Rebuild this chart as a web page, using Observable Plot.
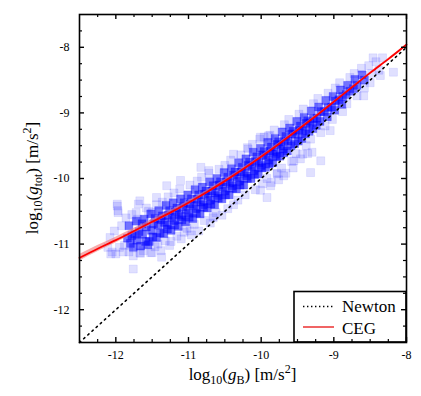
<!DOCTYPE html>
<html><head><meta charset="utf-8">
<script src="https://cdn.jsdelivr.net/npm/d3@7"></script>
<script src="https://cdn.jsdelivr.net/npm/@observablehq/plot@0.6"></script>
<style>html,body{margin:0;padding:0;background:#fff}
svg text{font-family:"Liberation Serif","Times New Roman",serif !important;}
</style>
</head><body><div id="chart"></div>
<script>
const xMajor = [-12, -11, -10, -9, -8];
const yMajor = [-12, -11, -10, -9, -8];
const xMinor = [-12.25, -11.75, -11.5, -11.25, -10.75, -10.5, -10.25, -9.75, -9.5, -9.25, -8.75, -8.5, -8.25];
const yMinor = [-12.25, -11.75, -11.5, -11.25, -10.75, -10.5, -10.25, -9.75, -9.5, -9.25, -8.75, -8.5, -8.25, -7.75];

const newtonX = [-12.5, -8];

const cegX = [-12.5, -12.25, -12, -11.75, -11.5, -11.25, -11, -10.75, -10.5, -10.25, -10, -9.75, -9.5, -9.25, -9, -8.75, -8.5, -8.25, -8];
const cegY = [-11.21, -11.07, -10.94, -10.80, -10.66, -10.52, -10.37, -10.21, -10.04, -9.86, -9.67, -9.47, -9.26, -9.05, -8.83, -8.61, -8.39, -8.18, -7.96];
const cegHalf = [0.05, 0.047, 0.044, 0.04, 0.036, 0.033, 0.03, 0.028, 0.025, 0.022, 0.02, 0.018, 0.016, 0.014, 0.012, 0.011, 0.01, 0.009, 0.008];

const corePts = [
[-11.82,-10.72],[-11.78,-10.87],[-11.80,-10.99],[-11.76,-11.05],[-11.84,-10.91],
[-11.72,-10.65],[-11.68,-10.81],[-11.71,-10.94],[-11.66,-11.03],[-11.74,-10.85],
[-11.61,-10.62],[-11.58,-10.74],[-11.63,-10.85],[-11.59,-10.96],[-11.64,-10.69],[-11.56,-11.01],
[-11.52,-10.54],[-11.48,-10.69],[-11.51,-10.79],[-11.49,-10.89],[-11.54,-10.96],[-11.46,-10.61],
[-11.41,-10.49],[-11.38,-10.63],[-11.42,-10.71],[-11.39,-10.83],[-11.44,-10.90],[-11.36,-10.57],
[-11.31,-10.41],[-11.28,-10.56],[-11.33,-10.67],[-11.29,-10.77],[-11.34,-10.84],[-11.26,-10.49],[-11.30,-10.71],
[-11.21,-10.37],[-11.18,-10.51],[-11.23,-10.59],[-11.19,-10.71],[-11.24,-10.79],[-11.16,-10.45],[-11.20,-10.64],
[-11.11,-10.31],[-11.08,-10.43],[-11.13,-10.55],[-11.09,-10.63],[-11.14,-10.73],[-11.06,-10.37],[-11.10,-10.58],
[-11.01,-10.25],[-10.98,-10.39],[-11.03,-10.47],[-10.99,-10.59],[-11.04,-10.66],[-10.96,-10.31],[-11.00,-10.53],
[-10.91,-10.17],[-10.88,-10.32],[-10.93,-10.41],[-10.89,-10.53],[-10.94,-10.61],[-10.86,-10.25],[-10.90,-10.46],
[-10.81,-10.13],[-10.78,-10.24],[-10.83,-10.36],[-10.79,-10.44],[-10.84,-10.54],[-10.76,-10.19],[-10.80,-10.40],
[-10.71,-10.05],[-10.68,-10.19],[-10.73,-10.27],[-10.69,-10.39],[-10.74,-10.45],[-10.66,-10.11],[-10.70,-10.33],
[-10.61,-10.00],[-10.58,-10.10],[-10.63,-10.22],[-10.59,-10.30],[-10.64,-10.40],[-10.56,-10.05],[-10.60,-10.26],
[-10.51,-9.91],[-10.48,-10.05],[-10.53,-10.13],[-10.49,-10.25],[-10.54,-10.31],[-10.46,-9.98],[-10.50,-10.19],
[-10.41,-9.85],[-10.38,-9.95],[-10.43,-10.07],[-10.39,-10.15],[-10.44,-10.25],[-10.36,-9.90],[-10.40,-10.11],
[-10.31,-9.76],[-10.28,-9.90],[-10.33,-9.98],[-10.29,-10.10],[-10.34,-10.16],[-10.26,-9.83],[-10.30,-10.04],
[-10.21,-9.70],[-10.18,-9.80],[-10.23,-9.92],[-10.19,-10.00],[-10.24,-10.10],[-10.16,-9.75],[-10.20,-9.96],
[-10.11,-9.60],[-10.08,-9.74],[-10.13,-9.82],[-10.09,-9.94],[-10.14,-10.00],[-10.06,-9.67],[-10.10,-9.88],
[-10.01,-9.54],[-9.98,-9.64],[-10.03,-9.76],[-9.99,-9.84],[-10.04,-9.93],[-9.96,-9.59],[-10.00,-9.80],
[-9.91,-9.45],[-9.88,-9.58],[-9.93,-9.66],[-9.89,-9.78],[-9.94,-9.83],[-9.86,-9.52],[-9.90,-9.72],
[-9.81,-9.39],[-9.78,-9.48],[-9.83,-9.60],[-9.79,-9.67],[-9.84,-9.76],[-9.76,-9.44],[-9.80,-9.63],
[-9.71,-9.29],[-9.68,-9.42],[-9.73,-9.50],[-9.69,-9.61],[-9.74,-9.66],[-9.66,-9.36],[-9.70,-9.55],
[-9.61,-9.23],[-9.58,-9.32],[-9.63,-9.43],[-9.59,-9.50],[-9.64,-9.58],[-9.56,-9.28],
[-9.51,-9.13],[-9.48,-9.26],[-9.53,-9.33],[-9.49,-9.43],[-9.54,-9.47],[-9.46,-9.20],
[-9.41,-9.07],[-9.38,-9.16],[-9.43,-9.27],[-9.39,-9.32],[-9.44,-9.39],[-9.36,-9.12],
[-9.31,-8.97],[-9.28,-9.09],[-9.33,-9.15],[-9.29,-9.24],[-9.34,-9.28],
[-9.21,-8.91],[-9.18,-8.98],[-9.23,-9.08],[-9.19,-9.13],[-9.24,-9.19],
[-9.11,-8.81],[-9.08,-8.92],[-9.13,-8.98],[-9.09,-9.06],
[-9.01,-8.75],[-8.98,-8.82],[-9.03,-8.91],[-8.99,-8.96],
[-8.91,-8.65],[-8.88,-8.75],[-8.93,-8.80],[-8.89,-8.87],
[-8.81,-8.58],[-8.78,-8.67],[-8.83,-8.72],
[-8.71,-8.49],[-8.68,-8.58],[-8.73,-8.63],
[-8.61,-8.42],[-8.58,-8.50]
];

const haloPts = [
[-12.08,-10.90],[-12.05,-11.12],
[-11.98,-10.42],[-11.97,-10.52],[-12.02,-10.80],[-11.95,-11.05],[-12.00,-11.15],
[-11.92,-10.72],[-11.88,-11.02],[-11.90,-11.12],[-11.86,-10.60],
[-11.78,-10.55],[-11.76,-11.18],[-11.82,-11.12],
[-11.69,-10.39],[-11.72,-10.52],[-11.66,-11.14],[-11.70,-10.62],
[-11.58,-10.45],[-11.62,-11.10],[-11.55,-10.50],
[-11.50,-10.52],[-11.46,-11.04],[-11.52,-11.13],[-11.44,-10.40],
[-11.36,-10.36],[-11.42,-11.00],[-11.38,-11.10],
[-11.28,-10.28],[-11.32,-10.95],[-11.26,-11.02],
[-11.20,-10.22],[-11.16,-10.88],[-11.24,-10.96],
[-11.12,-10.16],[-11.06,-10.82],[-11.10,-10.92],
[-10.98,-10.10],[-11.02,-10.76],[-10.96,-10.86],
[-10.88,-10.04],[-10.92,-10.70],[-10.86,-10.80],
[-10.82,-9.98],[-10.78,-10.64],
[-10.72,-9.92],[-10.66,-10.58],[-10.70,-10.68],
[-10.58,-9.86],[-10.62,-10.52],
[-10.50,-9.80],[-10.46,-10.46],[-10.54,-10.56],
[-10.42,-9.72],[-10.38,-10.40],
[-10.28,-9.64],[-10.32,-10.33],
[-10.18,-9.55],[-10.22,-10.25],
[-10.12,-9.48],[-10.08,-10.17],
[-10.02,-9.40],[-9.98,-10.08],[-9.96,-9.37],
[-9.88,-9.34],[-9.92,-10.00],[-9.86,-10.06],
[-9.82,-9.26],[-9.78,-9.92],[-9.76,-10.02],
[-9.68,-9.18],[-9.72,-9.84],[-9.66,-9.92],
[-9.62,-9.10],[-9.58,-9.74],[-9.56,-9.84],
[-9.48,-9.02],[-9.52,-9.62],[-9.46,-9.70],
[-9.42,-8.94],[-9.38,-9.50],[-9.36,-9.62],
[-9.28,-8.86],[-9.32,-9.40],
[-9.22,-8.78],[-9.18,-9.30],
[-9.08,-8.70],[-9.12,-9.20],
[-8.98,-8.62],[-9.02,-9.10],
[-8.92,-8.54],[-8.88,-8.98],
[-8.78,-8.46],[-8.82,-8.86],
[-8.72,-8.40],[-8.68,-8.74],
[-8.62,-8.32],[-8.58,-8.62],
[-8.52,-8.28],[-8.48,-8.40],[-8.50,-8.54],
[-8.42,-8.22],[-8.38,-8.35]
];

const outlierPts = [
[-8.46,-8.16],[-8.33,-8.16],[-8.18,-8.38],[-8.36,-8.43],[-8.59,-8.74],[-9.05,-9.27],
[-9.30,-9.60],[-9.18,-9.73],[-9.32,-9.91],[-9.43,-9.63],[-9.55,-9.73],[-9.69,-9.96],
[-9.87,-10.11],[-9.92,-10.29],[-10.01,-10.18],[-9.78,-9.93],
[-10.01,-9.37],[-9.90,-9.35],[-10.19,-9.53],[-10.38,-9.63],[-10.83,-9.83],[-10.72,-9.88],
[-11.11,-10.03],[-11.30,-10.11],
[-11.76,-11.38],[-11.37,-11.20],[-12.07,-11.15],[-12.11,-11.05],[-10.98,-10.80],[-10.66,-10.60],
[-11.50,-11.13],[-11.67,-11.13],[-11.97,-10.49],[-11.98,-10.39],[-11.67,-10.34],[-11.44,-10.29]
];

// ---- layout ----
const W = 421, H = 396;
const mL = 79, mR = 15, mT = 14, mB = 54;
const pw = W - mL - mR, ph = H - mT - mB;
const majLen = 5, minLen = 3;
const serif = '"Liberation Serif","Times New Roman",serif';

const ceg = cegX.map((x, i) => ({x, y: cegY[i], lo: cegY[i] - cegHalf[i], hi: cegY[i] + cegHalf[i]}));
const blue = "#0000ff";

const chart = Plot.plot({
  width: W, height: H,
  marginLeft: mL, marginRight: mR, marginTop: mT, marginBottom: mB,
  style: {fontFamily: serif, fontSize: "12px", color: "black", background: "white"},
  x: {domain: [-12.5, -8]},
  y: {domain: [-12.5, -7.5]},
  marks: [
    Plot.dot(haloPts, {x: d => d[0], y: d => d[1], symbol: "square", r: 4.5, fill: blue, fillOpacity: 0.13, stroke: blue, strokeOpacity: 0.08, strokeWidth: 1}),
    Plot.dot(outlierPts, {x: d => d[0], y: d => d[1], symbol: "square", r: 4.5, fill: blue, fillOpacity: 0.12, stroke: blue, strokeOpacity: 0.08, strokeWidth: 1}),
    Plot.dot(corePts, {x: d => d[0], y: d => d[1], symbol: "square", r: 4.5, fill: blue, fillOpacity: 0.55, stroke: blue, strokeOpacity: 0.2, strokeWidth: 1}),
    Plot.line(newtonX, {x: d => d, y: d => d, stroke: "black", strokeWidth: 1.6, strokeDasharray: "1.6,4"}),
    Plot.areaY(ceg, {x: "x", y1: "lo", y2: "hi", fill: "#f07878", fillOpacity: 0.6, curve: "natural"}),
    Plot.line(ceg, {x: "x", y: "y", stroke: "#ff0000", strokeWidth: 1.8, curve: "natural"}),
    Plot.tickX(xMajor, {x: d => d, insetTop: ph - majLen, stroke: "black", strokeWidth: 1.4}),
    Plot.tickX(xMinor, {x: d => d, insetTop: ph - minLen, stroke: "black", strokeWidth: 1.2}),
    Plot.tickX(xMajor, {x: d => d, insetBottom: ph - majLen, stroke: "black", strokeWidth: 1.4}),
    Plot.tickX(xMinor, {x: d => d, insetBottom: ph - minLen, stroke: "black", strokeWidth: 1.2}),
    Plot.tickY(yMajor, {y: d => d, insetRight: pw - majLen, stroke: "black", strokeWidth: 1.4}),
    Plot.tickY(yMinor, {y: d => d, insetRight: pw - minLen, stroke: "black", strokeWidth: 1.2}),
    Plot.tickY(yMajor, {y: d => d, insetLeft: pw - majLen, stroke: "black", strokeWidth: 1.4}),
    Plot.tickY(yMinor, {y: d => d, insetLeft: pw - minLen, stroke: "black", strokeWidth: 1.2}),
    Plot.frame({stroke: "black", strokeWidth: 1.6}),
    Plot.axisX({ticks: xMajor, tickSize: 0, tickPadding: 8, tickFormat: d => String(d), label: null}),
    Plot.axisY({ticks: yMajor, tickSize: 0, tickPadding: 10, tickFormat: d => String(d), label: null})
  ]
});

document.getElementById("chart").appendChild(chart);

const svg = d3.select(chart);
const NS = "http://www.w3.org/2000/svg";

// legend (inserted below the frame ticks)
const firstTick = chart.querySelector('g[aria-label="tick"]');
const leg = document.createElementNS(NS, "g");
chart.insertBefore(leg, firstTick);
const lg = d3.select(leg).attr("font-family", serif).attr("font-size", 17).attr("text-anchor", "start");
const lx0 = 294, ly0 = 291.5, lx1 = W - mR, ly1 = H - mB;
lg.append("rect").attr("x", lx0).attr("y", ly0).attr("width", lx1 - lx0).attr("height", ly1 - ly0)
  .attr("fill", "white").attr("stroke", "black").attr("stroke-width", 1.6);
lg.append("line").attr("x1", 303).attr("x2", 334).attr("y1", 306.5).attr("y2", 306.5)
  .attr("stroke", "black").attr("stroke-width", 1.4).attr("stroke-dasharray", "1.4,2.6");
lg.append("text").attr("x", 342).attr("y", 312).attr("text-anchor", "start").attr("fill", "black").text("Newton");
lg.append("line").attr("x1", 303).attr("x2", 334).attr("y1", 327).attr("y2", 327)
  .attr("stroke", "#f06464").attr("stroke-width", 2);
lg.append("text").attr("x", 342).attr("y", 333.5).attr("text-anchor", "start").attr("fill", "black").text("CEG");

// axis labels with sub/superscripts
function richLabel(sel, sub) {
  sel.append("tspan").text("log");
  sel.append("tspan").attr("font-size", 12).attr("dy", 4).text("10");
  sel.append("tspan").attr("dy", -4).text("(");
  sel.append("tspan").attr("font-style", "italic").text("g");
  sel.append("tspan").attr("font-size", 12).attr("dy", 3.5).text(sub);
  sel.append("tspan").attr("dy", -3.5).text(") [m/s");
  sel.append("tspan").attr("font-size", 12).attr("dy", -7).text("2");
  sel.append("tspan").attr("dy", 7).text("]");
}
const xl = svg.append("text").attr("x", mL + pw / 2).attr("y", 380).attr("text-anchor", "middle")
  .attr("font-family", serif).attr("font-size", 17).attr("fill", "black");
richLabel(xl, "B");
const yl = svg.append("text").attr("transform", `translate(38,${mT + ph / 2}) rotate(-90)`).attr("text-anchor", "middle")
  .attr("font-family", serif).attr("font-size", 17).attr("fill", "black");
richLabel(yl, "tot");
</script>
</body></html>
